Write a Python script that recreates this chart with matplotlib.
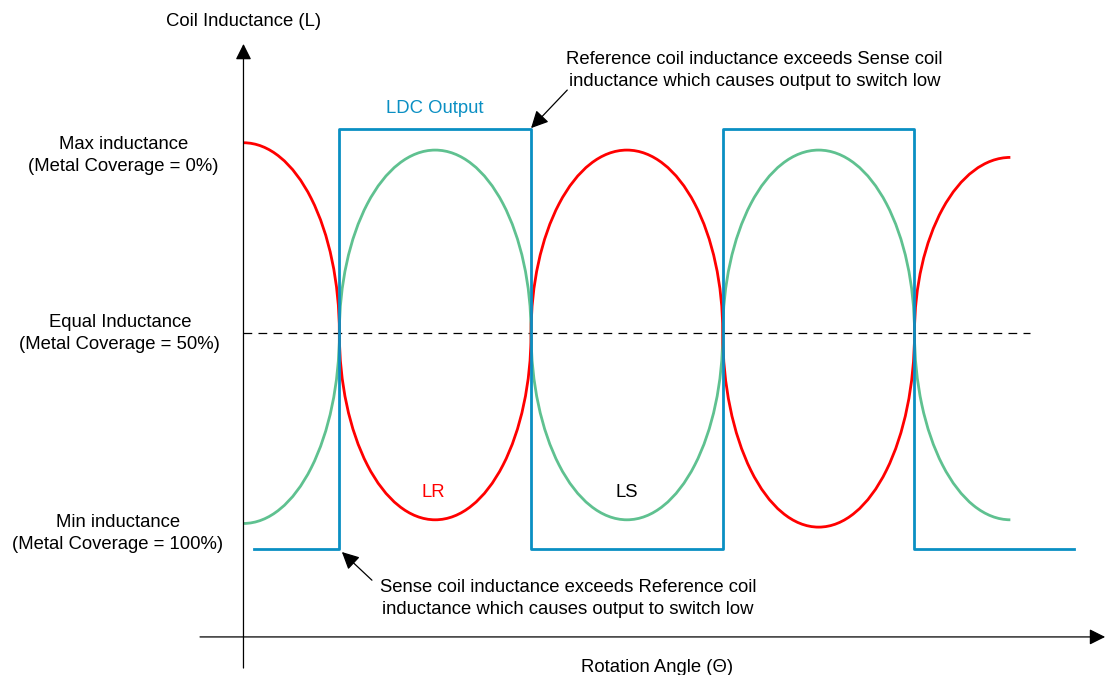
import matplotlib.pyplot as plt
from matplotlib.patches import Arc

plt.rcParams['font.family'] = ['Liberation Sans', 'DejaVu Sans']

# arc centres (rotation angle, deg) and extreme inductance of each arc
arc_centers = [0, 90, 180, 270, 360]
arc_half_width = 45
lr_extremes = [1.02, -0.01, 1.0, -0.03, 0.98]
ls_extremes = [-0.02, 1.0, -0.01, 1.0, -0.01]
equal_level = 0.5

# LDC output step signal
ldc_angles = [5, 45, 45, 135, 135, 225, 225, 315, 315, 390]
ldc_levels = [-0.09, -0.09, 1.057, 1.057, -0.09, -0.09, 1.057, 1.057, -0.09, -0.09]

level_labels = ["Max inductance\n(Metal Coverage = 0%)",
                "Equal Inductance\n(Metal Coverage = 50%)",
                "Min inductance\n(Metal Coverage = 100%)"]
level_label_x = [-56.5, -58, -59]
level_label_y = [0.986, 0.50, -0.048]

RED = '#ff0000'
GREEN = '#5fc190'
BLUE = '#0a8fc3'
FS = 13.3

fig = plt.figure(figsize=(11.06, 6.75), dpi=100)
ax = fig.add_axes([0, 0, 1, 1])
ax.axis('off')
ax.set_xlim(-114.3, 404.9)
ax.set_ylim(-0.434, 1.410)


def draw_arcs(extremes, color):
    last = len(arc_centers) - 1
    for i, (c, e) in enumerate(zip(arc_centers, extremes)):
        h = 2 * abs(e - equal_level)
        if e > equal_level:
            t1, t2 = 0, 180
        else:
            t1, t2 = 180, 360
        # first and last arcs are only quarters
        if i == 0:
            t1, t2 = (0, 90) if e > equal_level else (270, 360)
        elif i == last:
            t1, t2 = (90, 180) if e > equal_level else (180, 270)
        ax.add_patch(Arc((c, equal_level), 2 * arc_half_width, h,
                         theta1=t1, theta2=t2, color=color, lw=2.0, zorder=3))


draw_arcs(ls_extremes, GREEN)
draw_arcs(lr_extremes, RED)

ax.plot(ldc_angles, ldc_levels, color=BLUE, lw=2.0, zorder=4)

ax.plot([0, 369], [equal_level, equal_level], color='black', lw=0.9,
        ls=(0, (7, 5)), zorder=2)

# axes arrows
arrow = dict(arrowstyle='-|>', color='black', lw=0.9, mutation_scale=24,
             shrinkA=0, shrinkB=0)
ax.annotate('', xy=(404.5, -0.33), xytext=(-20.4, -0.33), arrowprops=arrow)
ax.annotate('', xy=(0, 1.29), xytext=(0, -0.415), arrowprops=arrow)

ax.text(0, 1.35, "Coil Inductance (L)", ha='center', va='center', fontsize=FS)
ax.text(194, -0.413, "Rotation Angle (Θ)", ha='center', va='center', fontsize=FS)

for lab, x, y in zip(level_labels, level_label_x, level_label_y):
    ax.text(x, y, lab, ha='center', va='center', fontsize=FS,
            multialignment='center', linespacing=1.4)

ax.text(90, 1.114, "LDC Output", color=BLUE, ha='center', va='center', fontsize=FS)
ax.text(89, 0.065, "LR", color=RED, ha='center', va='center', fontsize=FS)
ax.text(180, 0.065, "LS", color='black', ha='center', va='center', fontsize=FS)

pointer = dict(arrowstyle='-|>', color='black', lw=0.9, mutation_scale=26,
               shrinkA=0, shrinkB=0)
ax.annotate('', xy=(135, 1.06), xytext=(152, 1.164), arrowprops=pointer)
ax.text(240, 1.217, "Reference coil inductance exceeds Sense coil\n"
        "inductance which causes output to switch low",
        ha='center', va='center', fontsize=FS, linespacing=1.4)

ax.annotate('', xy=(46.2, -0.098), xytext=(60.3, -0.175), arrowprops=pointer)
ax.text(152.3, -0.224, "Sense coil inductance exceeds Reference coil\n"
        "inductance which causes output to switch low",
        ha='center', va='center', fontsize=FS, linespacing=1.4)

fig.savefig("out.png", dpi=100)
plt.close(fig)
